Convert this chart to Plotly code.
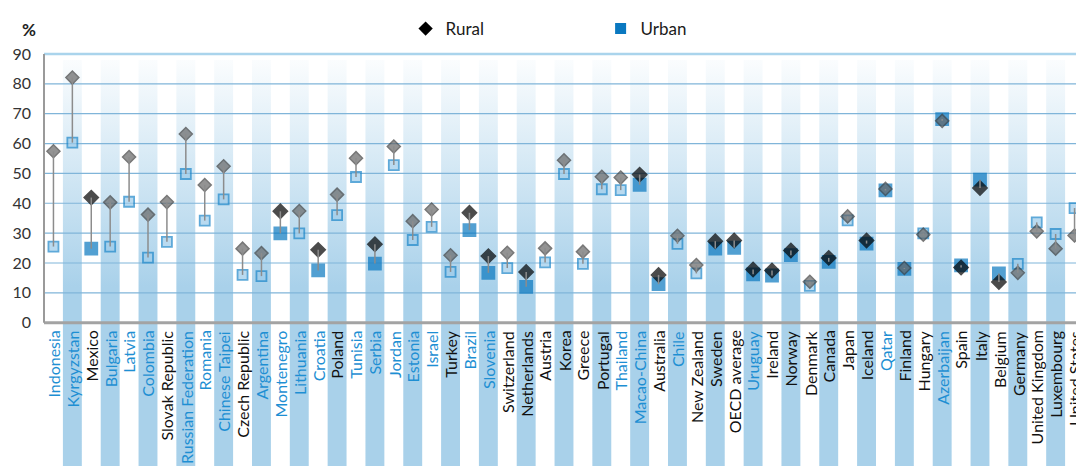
import plotly.graph_objects as go

countries = ["Indonesia", "Kyrgyzstan", "Mexico", "Bulgaria", "Latvia", "Colombia",
             "Slovak Republic", "Russian Federation", "Romania", "Chinese Taipei",
             "Czech Republic", "Argentina", "Montenegro", "Lithuania", "Croatia", "Poland",
             "Tunisia", "Serbia", "Jordan", "Estonia", "Israel", "Turkey", "Brazil",
             "Slovenia", "Switzerland", "Netherlands", "Austria", "Korea", "Greece",
             "Portugal", "Thailand", "Macao-China", "Australia", "Chile", "New Zealand",
             "Sweden", "OECD average", "Uruguay", "Ireland", "Norway", "Denmark", "Canada",
             "Japan", "Iceland", "Qatar", "Finland", "Hungary", "Azerbaijan", "Spain",
             "Italy", "Belgium", "Germany", "United Kingdom", "Luxembourg", "United States"]

rural = [57.4, 82.1, 41.9, 40.3, 55.5, 36.2, 40.4, 63.2, 46.1, 52.4, 24.8, 23.3, 37.3,
         37.4, 24.4, 42.9, 55.1, 26.3, 59.0, 34.0, 37.9, 22.6, 36.8, 22.3, 23.4, 17.0,
         24.9, 54.4, 23.8, 48.9, 48.6, 49.6, 16.0, 29.1, 19.3, 27.3, 27.5, 17.8, 17.5,
         24.2, 13.7, 21.7, 35.6, 27.5, 44.8, 18.3, 29.5, 67.6, 18.5, 45.1, 13.6, 16.7,
         30.6, 24.8, 29.2]

urban = [25.5, 60.3, 24.8, 25.5, 40.5, 21.8, 27.1, 49.8, 34.2, 41.3, 16.0, 15.6, 29.9,
         29.9, 17.5, 36.0, 48.8, 19.8, 52.8, 27.7, 32.1, 17.0, 31.0, 16.7, 18.3, 12.0,
         20.2, 49.8, 19.7, 44.7, 44.4, 46.2, 12.9, 26.4, 16.5, 24.8, 25.1, 16.2, 15.8,
         22.6, 12.3, 20.4, 34.3, 26.5, 44.3, 18.0, 29.9, 68.2, 19.2, 47.9, 16.5, 19.7,
         33.6, 29.7, 38.4]

# 1 = dark (solid) marker, 0 = light marker
rural_dark = [0, 0, 1, 0, 0, 0, 0, 0, 0, 0, 0, 0, 1, 0, 1, 0, 0, 1, 0, 0, 0, 0, 1, 1, 0,
              1, 0, 0, 0, 0, 0, 1, 1, 0, 0, 1, 1, 1, 1, 1, 0, 1, 0, 1, 0, 0, 0, 0, 1, 1,
              1, 0, 0, 0, 0]
urban_dark = [0, 0, 1, 0, 0, 0, 0, 0, 0, 0, 0, 0, 1, 0, 1, 0, 0, 1, 0, 0, 0, 0, 1, 1, 0,
              1, 0, 0, 0, 0, 0, 1, 1, 0, 0, 1, 1, 1, 1, 1, 0, 1, 0, 1, 1, 1, 0, 1, 1, 1,
              1, 0, 0, 0, 0]

# 1 = partner (blue label), 0 = OECD (black label)
partner = [1, 1, 0, 1, 1, 1, 0, 1, 1, 1, 0, 1, 1, 1, 1, 0, 1, 1, 1, 1, 1, 0, 1, 1, 0,
           0, 0, 0, 0, 0, 1, 1, 0, 1, 0, 0, 0, 1, 0, 0, 0, 0, 0, 0, 1, 0, 0, 1, 0, 0,
           0, 0, 0, 0, 0]

y_ticks = [0, 10, 20, 30, 40, 50, 60, 70, 80, 90]

FONT = "Lato"
n = len(countries)
xs = list(range(n))
y_bottom = -48.0
y_top = 105.4
band_top = 88

fig = go.Figure()

# alternating shaded bands (gradient)
bx, by = [], []
for i in xs:
    if i % 2 == 1:
        bx += [i - 0.5, i + 0.5, i + 0.5, i - 0.5, i - 0.5, None]
        by += [y_bottom, y_bottom, band_top, band_top, y_bottom, None]
fig.add_trace(go.Scatter(
    x=bx, y=by, mode="lines", fill="toself", line=dict(width=0),
    fillgradient=dict(type="vertical", colorscale=[[0, "#a9d1ea"], [1, "#ffffff"]],
                      start=12, stop=92),
    hoverinfo="skip", showlegend=False))

# gridlines (above the bands, below the markers)
gx, gy = [], []
for t in y_ticks[1:-1]:
    gx += [-0.5, n - 0.5, None]
    gy += [t, t, None]
fig.add_trace(go.Scatter(x=gx, y=gy, mode="lines", line=dict(color="#80b5d9", width=1.2),
                         hoverinfo="skip", showlegend=False))
fig.add_trace(go.Scatter(x=[-0.5, n - 0.5], y=[y_ticks[-1]] * 2, mode="lines",
                         line=dict(color="#aad4ec", width=2.5),
                         hoverinfo="skip", showlegend=False))

# urban squares
fig.add_trace(go.Scatter(
    x=xs, y=urban, mode="markers", name="Urban", showlegend=False,
    marker=dict(symbol="square",
                size=[12 if d else 10 for d in urban_dark],
                color=["#0a78c0" if d else "#9ccbea" for d in urban_dark],
                line=dict(color=["#0a78c0" if d else "#1b86c9" for d in urban_dark], width=1.8)),
    hovertemplate="%{text}: %{y}<extra>Urban</extra>", text=countries))

# rural diamonds
fig.add_trace(go.Scatter(
    x=xs, y=rural, mode="markers", name="Rural", showlegend=False,
    marker=dict(symbol="diamond",
                size=[11 if d else 10 for d in rural_dark],
                color=["#000000" if d else "#666666" for d in rural_dark],
                line=dict(color=["#000000" if d else "#3f3f3f" for d in rural_dark], width=1.5)),
    hovertemplate="%{text}: %{y}<extra>Rural</extra>", text=countries))

# connecting lines
lx, ly = [], []
for i in xs:
    lx += [i, i, None]
    ly += [rural[i], urban[i], None]
fig.add_trace(go.Scatter(x=lx, y=ly, mode="lines", line=dict(color="#8c8c8c", width=1.5),
                         hoverinfo="skip", showlegend=False))

# legend entries
fig.add_trace(go.Scatter(x=[None], y=[None], mode="markers", name="Rural",
                         marker=dict(symbol="diamond", size=11, color="#000000")))
fig.add_trace(go.Scatter(x=[None], y=[None], mode="markers", name="Urban",
                         marker=dict(symbol="square", size=11, color="#0a78c0")))

annotations = []
for i, name in enumerate(countries):
    annotations.append(dict(
        x=i, y=-2.0, xref="x", yref="y", text=name, textangle=-90,
        xanchor="center", yanchor="top", showarrow=False,
        font=dict(family=FONT, size=16, color="#1e8fd3" if partner[i] else "#111111")))
annotations.append(dict(x=-0.023, y=0.980, xref="paper", yref="paper", text="<b>%</b>",
                        showarrow=False, font=dict(family=FONT, size=17, color="#222222")))

shapes = [
    dict(type="line", xref="paper", yref="y", x0=0, x1=1, y0=0, y1=0,
         line=dict(color="#a3a3a3", width=3), layer="above"),
    dict(type="line", xref="paper", yref="y", x0=0, x1=0, y0=0, y1=90,
         line=dict(color="#9a9a9a", width=2), layer="above"),
]

fig.update_layout(
    width=1076, height=458,
    margin=dict(l=36, r=0, t=0, b=0),
    plot_bgcolor="white", paper_bgcolor="white",
    font=dict(family=FONT, color="#333333"),
    xaxis=dict(range=[-0.5, n - 0.5], showgrid=False, zeroline=False,
               showticklabels=False, ticks="", automargin=False),
    yaxis=dict(range=[y_bottom, y_top], tickvals=y_ticks, showgrid=False, zeroline=False,
               ticks="", ticklabelstandoff=12, automargin=False,
               tickfont=dict(family=FONT, size=16, color="#333333")),
    legend=dict(orientation="h", x=0.3477, y=0.954, xanchor="left", yanchor="middle",
                font=dict(family=FONT, size=17, color="#1a1a1a"),
                entrywidth=150, bgcolor="rgba(0,0,0,0)"),
    annotations=annotations, shapes=shapes,
)

fig.write_html("out.html")
